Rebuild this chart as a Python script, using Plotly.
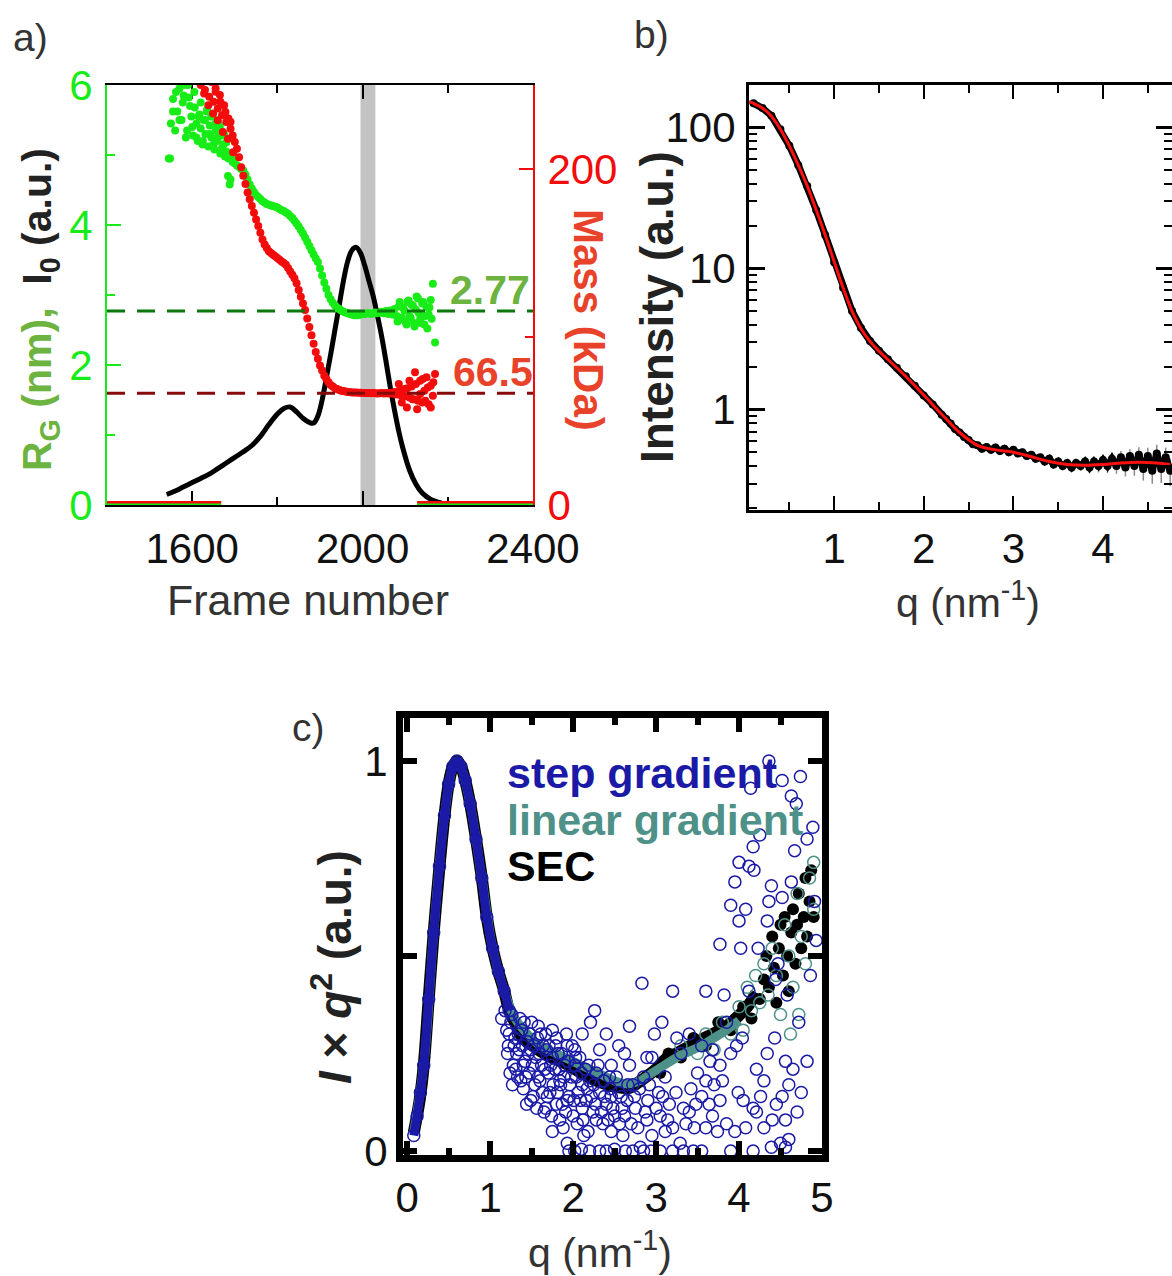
import plotly.graph_objects as go

W, H = 1172, 1276
FONT = "Liberation Sans, Arial, sans-serif"


def px(x):
    return x / W


def py(y):
    return 1 - y / H


# ---------------- panel a data ----------------
io_frames = [1540, 1560, 1580, 1600, 1620, 1640, 1660, 1680, 1700, 1720, 1740, 1760,
             1780, 1800, 1815, 1830, 1845, 1860, 1875, 1885, 1895, 1905, 1915, 1925,
             1935, 1945, 1955, 1965, 1975, 1985, 1995, 2005, 2015, 2025, 2035, 2045,
             2055, 2065, 2075, 2085, 2095, 2110, 2125, 2140, 2160, 2185]
io_values = [0.15, 0.20, 0.26, 0.32, 0.38, 0.44, 0.52, 0.60, 0.68, 0.76, 0.85, 0.98,
             1.15, 1.30, 1.38, 1.40, 1.33, 1.24, 1.18, 1.17, 1.27, 1.50, 1.82, 2.15,
             2.50, 2.85, 3.20, 3.48, 3.64, 3.68, 3.60, 3.42, 3.20, 2.98, 2.70, 2.40,
             2.05, 1.68, 1.35, 1.05, 0.80, 0.50, 0.30, 0.17, 0.08, 0.03]

rg_frames = list(range(1545, 2175, 5))
rg_values = [4.95, 5.45, 5.80, 5.35, 5.62, 5.95, 5.50, 5.85, 5.25, 6.00,
             5.70, 5.40, 5.90, 5.25, 5.55, 5.75, 5.20, 5.50, 5.65, 5.30,
             5.55, 5.15, 5.45, 5.25, 5.40, 5.10, 5.30, 5.05, 4.95, 4.65,
             4.90, 4.88, 4.85, 4.83, 4.80, 4.78, 4.72, 4.65, 4.58, 4.52,
             4.47, 4.43, 4.40, 4.37, 4.34, 4.32, 4.30, 4.29, 4.28, 4.27,
             4.26, 4.25, 4.23, 4.21, 4.20, 4.18, 4.16, 4.13, 4.10, 4.06,
             4.02, 3.98, 3.93, 3.88, 3.82, 3.76, 3.70, 3.64, 3.58, 3.52,
             3.47, 3.38, 3.28, 3.18, 3.09, 3.00, 2.94, 2.89, 2.85, 2.82,
             2.80, 2.78, 2.76, 2.75, 2.74, 2.73, 2.72, 2.71, 2.71, 2.71,
             2.72, 2.73, 2.73, 2.74, 2.74, 2.73, 2.74, 2.75, 2.74, 2.75,
             2.76, 2.74, 2.77, 2.73, 2.78, 2.72, 2.80, 2.70, 2.84, 2.66,
             2.82, 2.62, 2.90, 2.70, 2.86, 2.60, 2.79, 2.95, 2.65, 2.88,
             2.58, 2.83, 2.72, 2.93, 3.16, 2.32]
rg_extra_frames = [1548, 1555, 1562, 1570, 1578, 1583, 1588, 1592, 1598, 1602, 1606, 1610,
                   1613, 1617, 1620, 1624, 1627, 1631, 1634, 1638, 1641, 1645, 1648, 1652,
                   1655, 1659, 1662, 1666, 1669, 1673, 1677, 1680, 1684, 1688, 1692, 1697,
                   2082, 2087, 2092, 2098, 2103, 2108, 2113, 2118, 2122, 2127, 2132, 2137,
                   2142, 2147, 2152, 2157, 2162]
rg_extra_values = [4.95, 5.62, 5.90, 5.50, 5.75, 6.00, 5.35, 5.82, 5.55, 5.28, 5.68, 5.45,
                   5.20, 5.58, 5.38, 5.15, 5.50, 5.30, 5.62, 5.12, 5.42, 5.25, 5.55, 5.08,
                   5.35, 5.20, 5.45, 5.02, 5.28, 5.15, 4.98, 5.18, 4.70, 4.58, 5.00, 4.92,
                   2.62, 2.90, 2.68, 2.78, 2.58, 2.92, 2.67, 2.85, 2.55, 2.98, 2.74, 2.60,
                   2.90, 2.70, 2.52, 2.82, 2.66]

mass_frames = list(range(1615, 2175, 5))
mass_values = [258, 250, 262, 247, 255, 243, 252, 240, 248, 236,
               244, 232, 238, 228, 230, 224, 220, 216, 212, 207,
               201, 196, 191, 186, 182, 178, 174, 170, 166, 162,
               158, 155, 153, 151, 150, 149, 148, 147, 146, 145,
               144, 143, 141, 139, 137, 135, 132, 128, 124, 120,
               116, 111, 106, 101, 96, 91, 87, 83, 80, 77,
               75, 73, 71.5, 70.5, 69.5, 69, 68.5, 68, 67.8, 67.5,
               67.3, 67.2, 67, 67, 66.9, 66.8, 66.8, 66.7, 66.7, 66.6,
               66.6, 66.5, 66.6, 66.5, 66.4, 66.5, 66.6, 66.4, 66.7, 66.3,
               66.8, 66.2, 67.2, 65.8, 67.8, 65.3, 68.5, 64.8, 69.5, 64,
               70.5, 63, 72, 62, 74, 61, 68, 76, 60, 71,
               65, 78]
mass_extra_frames = [1622, 1628, 1633, 1638, 1644, 1649, 1655, 1660, 1666, 1672, 1678, 1684,
                     1690, 1696, 2085, 2092, 2098, 2104, 2110, 2117, 2123, 2128, 2135, 2141,
                     2147, 2153, 2160, 2166]
mass_extra_values = [262, 245, 257, 238, 252, 233, 246, 229, 240, 222, 234, 218,
                     228, 210, 72, 61, 69, 58, 74, 63, 79, 57, 66, 75,
                     62, 70, 58, 73]

zero_frames = [1400, 1668, None, 2128, 2400]
zero_values = [0, 0, None, 0, 0]

rg_mean = 2.77
mass_mean = 66.5
frame_band = [1995, 2030]

# ---------------- panel b data ----------------
q_fit = [0.05, 0.1, 0.2, 0.3, 0.4, 0.5, 0.6, 0.7, 0.8, 0.9, 1.0, 1.1, 1.2, 1.3, 1.4,
         1.5, 1.6, 1.8, 2.0, 2.2, 2.4, 2.6, 2.8, 3.0, 3.2, 3.4, 3.6, 3.8, 4.0, 4.2,
         4.4, 4.6, 4.75]
I_fit = [152, 148, 137, 120, 97, 74, 54, 38.5, 26, 17.3, 11.2, 7.3, 5.0, 3.75, 3.05,
         2.6, 2.27, 1.72, 1.27, 0.93, 0.69, 0.56, 0.52, 0.50, 0.465, 0.43, 0.41, 0.405,
         0.41, 0.42, 0.425, 0.42, 0.41]

q_exp = [0.1, 0.2, 0.3, 0.4, 0.5, 0.6, 0.7, 0.8, 0.9, 1.0, 1.1, 1.2, 1.3, 1.4, 1.5,
         1.6, 1.7, 1.8, 1.9, 2.0, 2.1, 2.2,
         2.25, 2.30, 2.35, 2.40, 2.45, 2.50, 2.55, 2.60, 2.65, 2.70,
         2.75, 2.80, 2.85, 2.90, 2.95, 3.00, 3.05, 3.10, 3.15, 3.20,
         3.25, 3.30, 3.35, 3.40, 3.45, 3.50, 3.55, 3.60, 3.65, 3.70,
         3.75, 3.80, 3.85, 3.90, 3.95, 4.00, 4.05, 4.10, 4.15, 4.20,
         4.25, 4.30, 4.35, 4.40, 4.45, 4.50, 4.55, 4.60, 4.65, 4.70, 4.75]
I_exp = [148, 137, 121, 97, 74, 54, 38.5, 26, 17.3, 11.1, 7.3, 5.0, 3.8, 3.07, 2.62,
         2.28, 1.98, 1.73, 1.48, 1.26, 1.09, 0.92,
         0.86, 0.80, 0.73, 0.69, 0.64, 0.61, 0.57, 0.56, 0.53, 0.545,
         0.52, 0.54, 0.51, 0.53, 0.50, 0.52, 0.49, 0.50, 0.47, 0.48,
         0.45, 0.46, 0.43, 0.45, 0.41, 0.43, 0.40, 0.42, 0.39, 0.42,
         0.40, 0.43, 0.39, 0.43, 0.40, 0.44, 0.40, 0.45, 0.40, 0.46,
         0.39, 0.47, 0.40, 0.48, 0.38, 0.47, 0.37, 0.49, 0.38, 0.46, 0.37]
I_err = [0, 0, 0, 0, 0, 0, 0, 0, 0, 0, 0, 0, 0, 0, 0, 0, 0, 0, 0, 0, 0, 0,
         0.008, 0.008, 0.009, 0.009, 0.010, 0.010, 0.011, 0.011, 0.012, 0.012,
         0.013, 0.013, 0.014, 0.014, 0.015, 0.016, 0.017, 0.018, 0.019, 0.020,
         0.021, 0.022, 0.023, 0.024, 0.025, 0.026, 0.027, 0.028, 0.029, 0.030,
         0.032, 0.034, 0.036, 0.038, 0.040, 0.042, 0.044, 0.046, 0.048, 0.050,
         0.053, 0.056, 0.059, 0.062, 0.065, 0.068, 0.071, 0.074, 0.077, 0.080, 0.083]

# ---------------- panel c data ----------------
sec_q = [0.08, 0.15, 0.20, 0.26, 0.32, 0.39, 0.45, 0.50, 0.55, 0.60, 0.65, 0.70, 0.76,
         0.83, 0.90, 0.96, 1.03, 1.10, 1.17, 1.23, 1.30, 1.36, 1.45, 1.58, 1.70, 1.80,
         1.90, 2.02, 2.13, 2.24, 2.35, 2.46, 2.57, 2.68, 2.78, 2.89, 3.00, 3.11, 3.22,
         3.33, 3.44, 3.55, 3.66, 3.77, 3.88, 3.99, 4.10, 4.21]
sec_y = [0.047, 0.13, 0.22, 0.39, 0.56, 0.73, 0.86, 0.94, 0.985, 1.0, 0.985, 0.95, 0.89,
         0.80, 0.70, 0.60, 0.52, 0.46, 0.41, 0.36, 0.33, 0.30, 0.28, 0.26, 0.245, 0.235,
         0.225, 0.21, 0.197, 0.184, 0.175, 0.167, 0.163, 0.162, 0.175, 0.192, 0.21, 0.235,
         0.248, 0.26, 0.273, 0.286, 0.298, 0.31, 0.325, 0.346, 0.37, 0.406]
sec_scatter_q = [3.05, 3.15, 3.30, 3.45, 3.60, 3.75, 3.90, 4.05, 4.15,
                 4.25, 4.30, 4.33, 4.36, 4.40, 4.42, 4.45, 4.48, 4.50, 4.53, 4.55, 4.58,
                 4.60, 4.63, 4.65, 4.68, 4.70, 4.72, 4.75, 4.78, 4.80, 4.82, 4.85, 4.87, 4.90]
sec_scatter_y = [0.20, 0.25, 0.24, 0.29, 0.27, 0.33, 0.31, 0.37, 0.34,
                 0.39, 0.44, 0.50, 0.42, 0.55, 0.47, 0.38, 0.52, 0.58, 0.45, 0.60, 0.50,
                 0.41, 0.56, 0.62, 0.48, 0.58, 0.66, 0.52, 0.60, 0.70, 0.55, 0.64, 0.72, 0.60]

lin_q = [0.08, 0.2, 0.32, 0.45, 0.55, 0.6, 0.65, 0.76, 0.9, 1.03, 1.17, 1.3, 1.45, 1.6,
         1.75, 1.9, 2.05, 2.2, 2.35, 2.5, 2.65, 2.8, 2.95, 3.1, 3.25, 3.4, 3.55, 3.7,
         3.85, 4.0]
lin_y = [0.05, 0.22, 0.56, 0.86, 0.985, 1.0, 0.985, 0.89, 0.70, 0.52, 0.41, 0.34, 0.30,
         0.27, 0.255, 0.24, 0.225, 0.21, 0.195, 0.18, 0.172, 0.18, 0.2, 0.22, 0.24, 0.255,
         0.27, 0.29, 0.31, 0.335]
lin_scatter_q = [3.3, 3.5, 3.6, 3.7, 3.8, 3.9, 4.0, 4.05, 4.1, 4.15, 4.2, 4.25, 4.3, 4.35,
                 4.4, 4.45, 4.5, 4.55, 4.6, 4.62, 4.65, 4.7, 4.72, 4.75, 4.8, 4.85, 4.9, 4.9]
lin_scatter_y = [0.27, 0.25, 0.3, 0.26, 0.33, 0.3, 0.37, 0.31, 0.42, 0.36, 0.45, 0.38, 0.48,
                 0.40, 0.52, 0.45, 0.35, 0.58, 0.50, 0.30, 0.42, 0.66, 0.35, 0.55, 0.48,
                 0.70, 0.62, 0.74]

step_q = [0.08, 0.12, 0.16, 0.2, 0.26, 0.32, 0.39, 0.45, 0.5, 0.55, 0.6, 0.65, 0.7, 0.76,
          0.83, 0.9, 0.96, 1.03, 1.1, 1.17, 1.23]
step_y = [0.04, 0.09, 0.15, 0.22, 0.39, 0.56, 0.73, 0.86, 0.94, 0.985, 1.0, 0.985, 0.95,
          0.89, 0.8, 0.7, 0.6, 0.52, 0.46, 0.41, 0.36]
step_scatter_points = [
    (1.14, 0.34), (1.18, 0.36), (1.20, 0.31), (1.22, 0.27), (1.23, 0.30), (1.25, 0.33),
    (1.27, 0.17), (1.28, 0.22), (1.30, 0.29), (1.32, 0.25), (1.33, 0.19), (1.35, 0.26),
    (1.36, 0.34), (1.38, 0.31), (1.40, 0.16), (1.40, 0.22), (1.42, 0.23), (1.45, 0.28),
    (1.47, 0.20), (1.49, 0.26), (1.49, 0.13), (1.50, 0.33), (1.52, 0.14), (1.55, 0.24),
    (1.57, 0.29), (1.58, 0.19), (1.58, 0.32), (1.60, 0.18), (1.62, 0.22), (1.65, 0.10),
    (1.67, 0.30), (1.67, 0.11), (1.68, 0.26), (1.70, 0.20), (1.72, 0.15), (1.75, 0.31),
    (1.75, 0.24), (1.75, 0.05), (1.78, 0.21), (1.80, 0.12), (1.80, 0.29), (1.82, 0.25),
    (1.84, 0.18), (1.84, 0.08), (1.85, 0.17), (1.88, 0.06), (1.90, 0.22), (1.92, 0.30),
    (1.93, 0.27), (1.93, 0.13), (1.93, 0.02), (1.95, 0.14), (1.98, 0.19), (2.00, 0.09),
    (2.02, 0.22), (2.02, 0.26), (2.03, 0.24), (2.06, 0.15), (2.10, 0.20), (2.11, 0.17),
    (2.11, 0.30), (2.11, 0.11), (2.13, 0.04), (2.16, 0.13), (2.19, 0.22), (2.20, 0.18),
    (2.21, 0.33), (2.24, 0.10), (2.26, 0.36), (2.28, 0.20), (2.28, 0.08), (2.32, 0.15),
    (2.32, 0.26), (2.36, 0.07), (2.37, 0.18), (2.40, 0.12), (2.44, 0.19), (2.46, 0.14),
    (2.46, 0.22), (2.46, 0.05), (2.50, 0.09), (2.55, 0.15), (2.59, 0.11), (2.60, 0.04),
    (2.65, 0.13), (2.68, 0.32), (2.68, 0.22), (2.70, 0.07), (2.72, 0.17), (2.75, 0.11),
    (2.80, 0.16), (2.81, 0.01), (2.83, 0.43), (2.85, 0.19), (2.89, 0.08), (2.89, 0.24),
    (2.90, 0.13), (2.95, 0.04), (2.98, 0.30), (3.03, 0.15), (3.05, 0.09), (3.11, 0.19),
    (3.11, 0.05), (3.16, 0.12), (3.20, 0.41), (3.20, 0.06), (3.25, 0.29), (3.29, 0.02),
    (3.33, 0.11), (3.40, 0.10), (3.42, 0.16), (3.46, 0.06), (3.50, 0.20), (3.55, 0.14),
    (3.60, 0.41), (3.60, 0.18), (3.60, 0.06), (3.68, 0.09), (3.68, 0.26), (3.70, 0.17),
    (3.77, 0.53), (3.77, 0.22), (3.77, 0.13), (3.82, 0.40), (3.85, 0.07), (3.90, 0.63),
    (3.90, 0.25), (3.95, 0.69), (3.95, 0.05), (3.99, 0.15), (4.00, 0.74), (4.00, 0.59),
    (4.02, 0.52), (4.04, 0.29), (4.05, 0.13), (4.08, 0.62), (4.08, 0.06), (4.12, 0.73),
    (4.14, 0.93), (4.17, 0.78), (4.17, 0.11), (4.18, 0.72), (4.21, 0.21), (4.21, 0.10),
    (4.23, 0.52), (4.25, 0.81), (4.30, 0.18), (4.30, 0.06), (4.34, 0.59), (4.34, 0.25),
    (4.36, 1.00), (4.36, 0.64), (4.39, 0.68), (4.43, 0.29), (4.45, 0.12), (4.47, 0.48),
    (4.50, 0.02), (4.52, 0.95), (4.52, 0.65), (4.52, 0.14), (4.56, 0.23), (4.56, 0.08),
    (4.60, 0.03), (4.63, 0.91), (4.63, 0.69), (4.65, 0.21), (4.67, 0.77), (4.69, 0.89),
    (4.74, 0.96), (4.75, 0.15), (4.82, 0.80), (4.82, 0.23), (4.89, 0.83), (4.91, 0.64),
    (4.93, 0.54),
    (1.95, 0.0), (2.02, 0.0), (2.10, 0.005), (2.20, 0.0), (2.32, 0.0), (2.40, 0.0),
    (2.50, 0.005), (2.63, 0.0), (2.72, 0.0), (2.85, 0.0), (2.94, 0.0), (3.05, 0.0),
    (3.20, 0.0), (3.33, 0.0), (3.45, 0.0), (3.55, 0.0), (3.90, 0.0), (4.17, 0.0),
    (4.39, 0.01), (4.56, 0.01),
    (1.21, 0.25), (1.24, 0.20), (1.26, 0.35), (1.29, 0.27), (1.31, 0.21), (1.34, 0.30),
    (1.37, 0.18), (1.39, 0.27), (1.41, 0.33), (1.43, 0.19), (1.44, 0.12), (1.46, 0.25),
    (1.48, 0.30), (1.51, 0.22), (1.53, 0.27), (1.54, 0.17), (1.56, 0.11), (1.59, 0.25),
    (1.61, 0.30), (1.63, 0.15), (1.64, 0.27), (1.66, 0.21), (1.69, 0.14), (1.71, 0.27),
    (1.73, 0.22), (1.74, 0.09), (1.76, 0.17), (1.79, 0.27), (1.81, 0.15), (1.83, 0.21),
    (1.86, 0.25), (1.87, 0.12), (1.89, 0.19), (1.91, 0.10), (1.94, 0.23), (1.96, 0.17),
    (1.99, 0.27), (2.01, 0.13), (2.04, 0.19), (2.05, 0.07), (2.08, 0.24), (2.09, 0.13),
    (2.12, 0.08), (2.15, 0.21), (2.17, 0.16), (2.18, 0.05), (2.22, 0.14), (2.25, 0.17),
    (2.27, 0.12), (2.30, 0.22), (2.34, 0.10), (2.38, 0.14), (2.42, 0.08), (2.45, 0.16),
    (2.48, 0.11), (2.52, 0.19), (2.56, 0.07), (2.58, 0.14), (2.62, 0.09), (2.66, 0.17),
    (2.74, 0.14), (2.78, 0.06), (2.87, 0.10), (2.92, 0.17), (3.00, 0.11), (3.08, 0.14),
    (3.14, 0.08), (3.24, 0.15), (3.36, 0.07), (3.48, 0.12), (3.64, 0.12), (3.74, 0.05),
    (3.80, 0.18), (4.26, 0.14), (4.40, 0.08), (4.60, 0.17), (4.70, 0.10),
    (2.40, 0.30), (2.55, 0.27), (2.62, 0.25), (2.95, 0.24), (3.07, 0.33), (3.30, 0.25),
    (3.40, 0.30), (3.55, 0.27), (3.65, 0.23), (3.85, 0.33), (3.97, 0.27), (4.12, 0.41),
    (4.44, 0.44), (4.58, 0.40), (4.72, 0.33), (4.86, 0.45),
]
step_scatter_q = [p[0] for p in step_scatter_points]
step_scatter_y = [p[1] for p in step_scatter_points]

# ---------------- colours ----------------
GREEN = "#18ec18"
RED = "#f20c0c"
OLIVE = "#6db33f"
ORANGE_RED = "#e8432a"
NAVY = "#1a1aa6"
TEAL = "#4e9189"

fig = go.Figure()

# panel a traces
fig.add_trace(go.Scatter(x=io_frames, y=io_values, mode="lines", xaxis="x", yaxis="y",
                         line=dict(color="black", width=5, shape="spline"), showlegend=False))
fig.add_trace(go.Scatter(x=rg_frames + rg_extra_frames, y=rg_values + rg_extra_values,
                         mode="markers", xaxis="x", yaxis="y",
                         marker=dict(color=GREEN, size=8), showlegend=False))
fig.add_trace(go.Scatter(x=zero_frames, y=zero_values, mode="lines", xaxis="x", yaxis="y",
                         line=dict(color=RED, width=8), cliponaxis=False, showlegend=False))
fig.add_trace(go.Scatter(x=zero_frames, y=zero_values, mode="lines", xaxis="x", yaxis="y",
                         line=dict(color=GREEN, width=3), cliponaxis=False, showlegend=False))
fig.add_trace(go.Scatter(x=mass_frames + mass_extra_frames, y=mass_values + mass_extra_values,
                         mode="markers", xaxis="x", yaxis="y2",
                         marker=dict(color=RED, size=8), showlegend=False))

# panel b traces
fig.add_trace(go.Scatter(x=q_exp, y=I_exp, mode="lines+markers", xaxis="x2", yaxis="y3",
                         line=dict(color="black", width=7),
                         marker=dict(color="black", size=8),
                         error_y=dict(type="data", array=I_err, color="#8a8a8a",
                                      thickness=1.5, width=0),
                         showlegend=False))
fig.add_trace(go.Scatter(x=q_fit, y=I_fit, mode="lines", xaxis="x2", yaxis="y3",
                         line=dict(color="#ff1010", width=3, shape="spline"), showlegend=False))

# panel c traces
fig.add_trace(go.Scatter(x=sec_q, y=sec_y, mode="lines", xaxis="x3", yaxis="y4",
                         line=dict(color="black", width=12, shape="spline"), showlegend=False))
fig.add_trace(go.Scatter(x=sec_scatter_q, y=sec_scatter_y, mode="markers", xaxis="x3", yaxis="y4",
                         marker=dict(color="black", size=12), showlegend=False))
fig.add_trace(go.Scatter(x=lin_q, y=lin_y, mode="lines", xaxis="x3", yaxis="y4",
                         line=dict(color=TEAL, width=9, shape="spline"), showlegend=False))
fig.add_trace(go.Scatter(x=lin_scatter_q, y=lin_scatter_y, mode="markers", xaxis="x3", yaxis="y4",
                         marker=dict(symbol="circle-open", color=TEAL, size=12, line=dict(width=1.5)),
                         showlegend=False))
fig.add_trace(go.Scatter(x=step_q, y=step_y, mode="lines+markers", xaxis="x3", yaxis="y4",
                         line=dict(color=NAVY, width=9, shape="spline"),
                         marker=dict(symbol="circle-open", color=NAVY, size=12, line=dict(width=1.5)),
                         showlegend=False))
fig.add_trace(go.Scatter(x=step_scatter_q, y=step_scatter_y, mode="markers", xaxis="x3", yaxis="y4",
                         marker=dict(symbol="circle-open", color=NAVY, size=12, line=dict(width=1.5)),
                         cliponaxis=False, showlegend=False))

shapes = [
    dict(type="rect", xref="x", yref="y domain", x0=frame_band[0], x1=frame_band[1], y0=0, y1=1,
         fillcolor="#c3c3c3", line=dict(width=0), layer="below"),
    dict(type="line", xref="x domain", yref="y", x0=0, x1=1, y0=rg_mean, y1=rg_mean,
         line=dict(color="#0b760b", width=3, dash="18px,12px")),
    dict(type="line", xref="x domain", yref="y2", x0=0, x1=1, y0=mass_mean, y1=mass_mean,
         line=dict(color="#860a0a", width=3, dash="18px,12px")),
]


def ann(x, y, text, size=40, color="#333333", angle=0, xanchor="center", yanchor="middle"):
    return dict(x=px(x), y=py(y), xref="paper", yref="paper", text=text, showarrow=False,
                textangle=angle, xanchor=xanchor, yanchor=yanchor,
                font=dict(family=FONT, size=size, color=color))


annotations = [
    ann(30, 38, "a)", 39),
    ann(652, 35, "b)", 39),
    ann(308, 727, "c)", 39),
    ann(308, 600, "Frame number", 43),
    ann(40, 310, "<b><span style='color:%s'>R<sub>G</sub> (nm),</span>&nbsp;&nbsp;I<sub>0</sub> (a.u.)</b>" % OLIVE,
        41, "#222222", -90),
    ann(588, 320, "<b>Mass (kDa)</b>", 42, ORANGE_RED, 90),
    ann(490, 290, "<b>%.2f</b>" % rg_mean, 41, OLIVE),
    ann(493, 372, "<b>%.1f</b>" % mass_mean, 41, ORANGE_RED),
    ann(657, 307, "<b>Intensity (a.u.)</b>", 46, "#222222", -90),
    ann(968, 600, "q (nm<sup>-1</sup>)", 41),
    ann(332, 967, "<b><i>I</i> × <i>q</i><sup>2</sup> (a.u.)</b>", 46, "#222222", -90),
    ann(600, 1250, "q (nm<sup>-1</sup>)", 41),
    ann(505, 773, "<b>step gradient</b>", 43, NAVY, xanchor="left"),
    ann(505, 820, "<b>linear gradient</b>", 43, TEAL, xanchor="left"),
    ann(505, 866, "<b>SEC</b>", 43, "black", xanchor="left"),
]

tickfont = dict(family=FONT, size=42, color="#111111")

fig.update_layout(
    width=W, height=H,
    margin=dict(l=0, r=0, t=0, b=0, pad=0, autoexpand=False),
    autosize=False,
    paper_bgcolor="white", plot_bgcolor="white",
    font=dict(family=FONT),
    shapes=shapes, annotations=annotations,
    showlegend=False,
    xaxis=dict(domain=[px(107), px(533)], anchor="y", range=[1400, 2400],
               tickvals=[1600, 2000, 2400], ticks="inside", ticklen=14, tickwidth=2,
               tickcolor="black", showline=True, linecolor="black", linewidth=2,
               mirror="ticks", showgrid=False, zeroline=False, layer="below traces",
               tickfont=tickfont, ticklabelstandoff=6, automargin=False,
               minor=dict(tickvals=[1800, 2200], ticks="inside", ticklen=8, tickwidth=2,
                          tickcolor="black", showgrid=False)),
    yaxis=dict(domain=[py(505), py(85)], anchor="x", range=[0, 6],
               tickvals=[0, 2, 4, 6], ticks="inside", ticklen=14, tickwidth=2,
               tickcolor=GREEN, showline=True, linecolor=GREEN, linewidth=2,
               showgrid=False, zeroline=False, automargin=False,
               tickfont=dict(family=FONT, size=42, color=GREEN), ticklabelstandoff=4,
               minor=dict(tickvals=[1, 3, 5], ticks="inside", ticklen=8, tickwidth=2,
                          tickcolor=GREEN, showgrid=False)),
    yaxis2=dict(overlaying="y", side="right", anchor="x", range=[0, 250],
                tickvals=[0, 200], ticks="inside", ticklen=14, tickwidth=2,
                tickcolor=RED, showline=True, linecolor=RED, linewidth=2,
                showgrid=False, zeroline=False, automargin=False,
                tickfont=dict(family=FONT, size=42, color=RED), ticklabelstandoff=4,
                minor=dict(tickvals=[100], ticks="inside", ticklen=8, tickwidth=2,
                           tickcolor=RED, showgrid=False)),
    xaxis2=dict(domain=[px(749), 1.0], anchor="y3", range=[0.05, 4.77],
                tickvals=[1, 2, 3, 4], ticks="inside", ticklen=14, tickwidth=2,
                tickcolor="black", showline=True, linecolor="black", linewidth=3,
                mirror="ticks", showgrid=False, zeroline=False, automargin=False,
                tickfont=tickfont, ticklabelstandoff=0,
                minor=dict(tickvals=[0.5, 1.5, 2.5, 3.5, 4.5], ticks="inside", ticklen=8,
                           tickwidth=2, tickcolor="black", showgrid=False)),
    yaxis3=dict(domain=[py(510), py(85)], anchor="x2", type="log", range=[-0.71, 2.30],
                tickvals=[1, 10, 100], ticktext=["1", "10", "100"],
                ticks="inside", ticklen=16, tickwidth=3,
                tickcolor="black", showline=True, linecolor="black", linewidth=3,
                mirror="ticks", showgrid=False, zeroline=False, automargin=False,
                tickfont=tickfont, ticklabelstandoff=2,
                minor=dict(tickvals=[0.2, 0.3, 0.4, 0.5, 0.6, 0.7, 0.8, 0.9,
                                     2, 3, 4, 5, 6, 7, 8, 9,
                                     20, 30, 40, 50, 60, 70, 80, 90],
                           ticks="inside", ticklen=8, tickwidth=2, tickcolor="black",
                           showgrid=False)),
    xaxis3=dict(domain=[px(403), px(822)], anchor="y4", range=[-0.05, 5.0],
                tickvals=[0, 1, 2, 3, 4, 5], ticks="inside", ticklen=14, tickwidth=6,
                tickcolor="black", showline=True, linecolor="black", linewidth=7,
                mirror="ticks", showgrid=False, zeroline=False, automargin=False,
                tickfont=tickfont, ticklabelstandoff=0,
                minor=dict(tickvals=[0.5, 1.5, 2.5, 3.5, 4.5], ticks="inside", ticklen=7,
                           tickwidth=6, tickcolor="black", showgrid=False)),
    yaxis4=dict(domain=[py(1155), py(718)], anchor="x3", range=[-0.01, 1.11],
                tickvals=[0, 1], ticks="inside", ticklen=14, tickwidth=6,
                tickcolor="black", showline=True, linecolor="black", linewidth=7,
                mirror="ticks", showgrid=False, zeroline=False, automargin=False,
                tickfont=tickfont, ticklabelstandoff=0,
                minor=dict(tickvals=[0.5], ticks="inside", ticklen=14, tickwidth=6,
                           tickcolor="black", showgrid=False)),
)

fig.write_html("out.html", config={"displayModeBar": False},
               post_script="document.body.style.margin='0';")
